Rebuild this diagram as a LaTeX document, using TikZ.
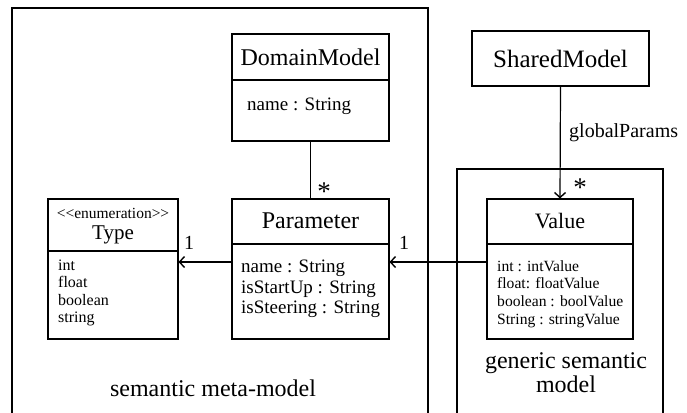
\documentclass[tikz,border=0pt]{standalone}
\usepackage{fontspec}
\setmainfont{Liberation Serif}
\usetikzlibrary{arrows.meta}

\tikzset{
  frame/.style={line width=2.6pt, line cap=rect},
  umlbox/.style={draw, line width=1.1pt, inner sep=0pt},
  divider/.style={line width=1.1pt},
  assoc/.style={line width=1.2pt},
  navarrow/.style={assoc, -{Straight Barb[length=5pt,width=11pt,line width=1.4pt]}},
  title/.style={inner sep=0pt, font=\fontsize{24}{26}\selectfont},
  attrs/.style={inner sep=0pt, anchor=west, align=left},
  mult/.style={inner sep=0pt, font=\fontsize{20}{22}\selectfont},
  star/.style={inner sep=0pt, font=\fontsize{27}{27}\selectfont},
  caption/.style={inner sep=0pt, align=center, font=\fontsize{24}{24}\selectfont}
}

\begin{document}
\begin{tikzpicture}[x=1pt,y=-1pt]
\useasboundingbox (0,0) rectangle (687,412);

% package frames, open at the bottom edge
\draw[frame] (12,420) -- (12,8) -- (428,8) -- (428,420);
\draw[frame] (457,420) -- (457,169) -- (663,169) -- (663,420);

% DomainModel
\node[umlbox, minimum width=157pt, minimum height=107pt] (dm) at (310.5,87.5) {};
\draw[divider] (dm.west |- 0,80) -- (dm.east |- 0,80);
\node[title] (dmtitle) at (310.5,57) {DomainModel};
\node[attrs, font=\fontsize{19}{21}\selectfont] (dmattr) at (247,106) {name : String};

% Parameter
\node[umlbox, minimum width=157pt, minimum height=140pt] (par) at (310.5,269) {};
\draw[divider] (par.west |- 0,244) -- (par.east |- 0,244);
\node[title] (partitle) at (310.5,221) {Parameter};
\node[attrs, font=\fontsize{19}{20.7}\selectfont] (parattr) at (241,289)
  {name : String\\isStartUp : String\\isSteering : String};

% Type enumeration
\node[umlbox, minimum width=130pt, minimum height=140pt] (type) at (113,269) {};
\draw[divider] (type.west |- 0,251) -- (type.east |- 0,251);
\node[inner sep=0pt, font=\fontsize{15.5}{17}\selectfont] (stereo) at (113,213)
  {<\kern0pt<enumeration>\kern0pt>};
\node[title, font=\fontsize{21}{23}\selectfont] (typetitle) at (113,235) {Type};
\node[attrs, font=\fontsize{16}{17.4}\selectfont] (typeattr) at (58,293)
  {int\\float\\boolean\\string};

% SharedModel
\node[umlbox, minimum width=177pt, minimum height=55pt, font=\fontsize{25}{27}\selectfont] (sm) at (560.5,58.5) {SharedModel};

% Value
\node[umlbox, minimum width=146pt, minimum height=140pt] (val) at (560,269) {};
\draw[divider] (val.west |- 0,244) -- (val.east |- 0,244);
\node[title, font=\fontsize{22}{24}\selectfont] (valtitle) at (560,221) {Value};
\node[attrs, font=\fontsize{15.6}{17.6}\selectfont] (valattr) at (497,294)
  {int : intValue\\float: floatValue\\boolean : boolValue\\String : stringValue};

% associations
\draw[assoc] (dm.south) -- (par.north);
\draw[navarrow] ([yshift=7pt]par.west) -- ([yshift=7pt]type.east);
\draw[navarrow] ([yshift=7pt]val.west) -- ([yshift=7pt]par.east);
\draw[navarrow] (sm.south) -- (val.north);

% multiplicities and role names
\node[star] (m1) at (324,192) {*};
\node[mult] (m2) at (189,243) {1};
\node[mult] (m3) at (404,243) {1};
\node[star] (m4) at (580,188) {*};
\node[inner sep=0pt, anchor=west, font=\fontsize{20}{22}\selectfont] (role) at (569,133) {globalParams};

% package names
\node[caption] (semmeta) at (213,388) {semantic meta-model};
\node[caption] (gensem) at (566,373) {generic semantic\\model};
\end{tikzpicture}
\end{document}
